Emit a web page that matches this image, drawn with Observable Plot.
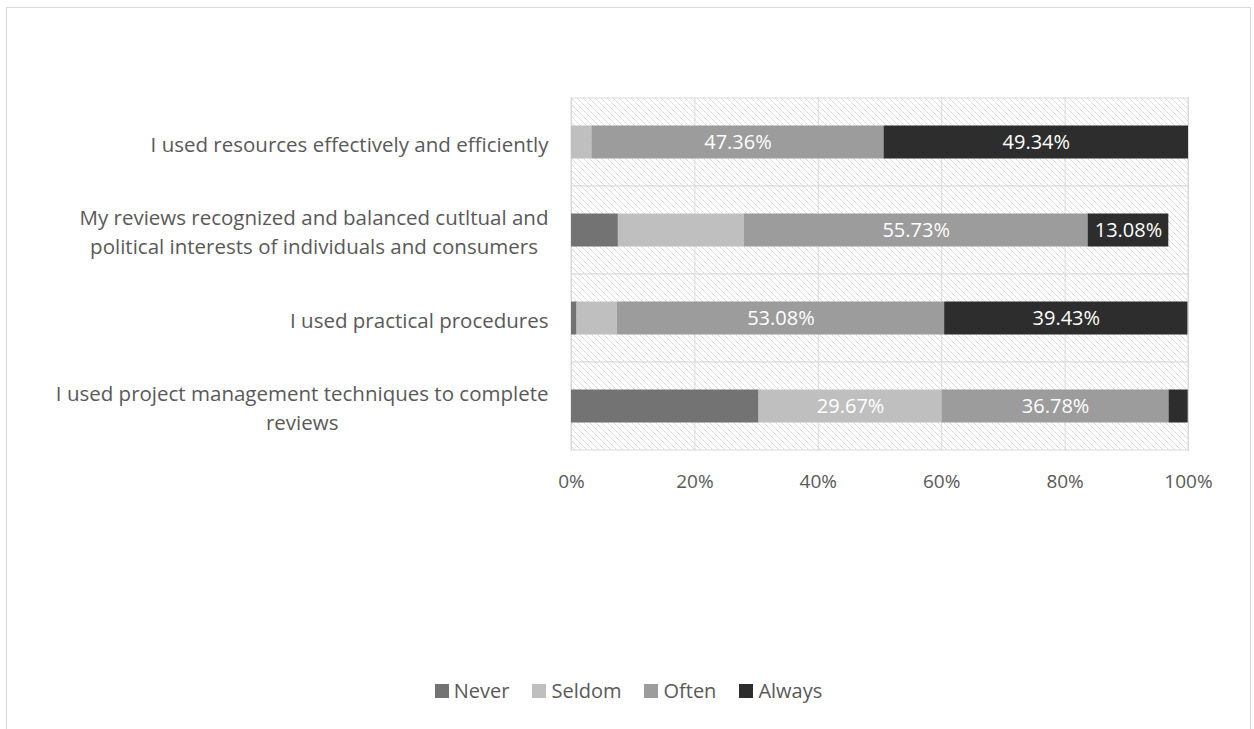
<!DOCTYPE html>
<html>
<head>
<meta charset="utf-8">
<script src="https://cdn.jsdelivr.net/npm/d3@7"></script>
<script src="https://cdn.jsdelivr.net/npm/@observablehq/plot@0.6"></script>
<style>
  html, body { margin: 0; padding: 0; background: #fff; overflow: hidden; width: 1254px; height: 729px; }
  #frame { position: absolute; left: 6px; top: 7px; width: 1243px; height: 760px; border: 1px solid #d9d9d9; box-sizing: content-box; }
  #chart { position: absolute; left: 0; top: 0; }
  #legend { position: absolute; left: 0; top: 669px; width: 1243px; display: flex; justify-content: center; align-items: center;
            font-family: "Open Sans", Lato, sans-serif; font-size: 20px; color: #595959; }
  .item { display: flex; align-items: center; margin: 0 11.5px; }
  .sw { width: 14px; height: 14px; margin-right: 5px; }
</style>
</head>
<body>
<div id="frame">
  <div id="chart"></div>
  <div id="legend"></div>
</div>
<script>
const categories = [
  "I used resources effectively and efficiently",
  "My reviews recognized and balanced cutltual and\npolitical interests of individuals and consumers",
  "I used practical procedures",
  "I used project management techniques to complete\nreviews"
];
const series = ["Never", "Seldom", "Often", "Always"];
const neverValues  = [0, 7.6, 0.9, 30.4];
const seldomValues = [3.3, 20.4, 6.5, 29.67];
const oftenValues  = [47.36, 55.73, 53.08, 36.78];
const alwaysValues = [49.34, 13.08, 39.43, 3.1];
// which segments carry a data label
const neverLabeled  = [false, false, false, false];
const seldomLabeled = [false, false, false, true];
const oftenLabeled  = [true, true, true, true];
const alwaysLabeled = [true, true, true, false];
const xTicks = [0, 20, 40, 60, 80, 100];

const palette = ["#737373", "#bfbfbf", "#9c9c9c", "#2d2d2d"];

const valuesBySeries = [neverValues, seldomValues, oftenValues, alwaysValues];
const labeledBySeries = [neverLabeled, seldomLabeled, oftenLabeled, alwaysLabeled];
const rows = [];
categories.forEach((c, i) => {
  series.forEach((s, j) => {
    rows.push({cat: c, series: s, value: valuesBySeries[j][i], labeled: labeledBySeries[j][i]});
  });
});

const font = '"Open Sans", Lato, sans-serif';
const W = 1243, H = 520;

const plot = Plot.plot({
  width: W,
  height: H,
  marginLeft: 564,
  marginRight: 62,
  marginTop: 89,
  marginBottom: 77,
  style: {fontFamily: font, fontSize: "19px", color: "#595959", background: "transparent"},
  x: {domain: [0, 100], ticks: xTicks, label: null},
  y: {domain: categories, padding: 0, label: null},
  color: {domain: series, range: palette},
  marks: [
    Plot.barX(categories, {x1: 0, x2: 100, y: d => d, fill: "url(#hatch)", stroke: "#d9d9d9", strokeWidth: 1}),
    Plot.ruleX(xTicks, {stroke: "#d9d9d9", strokeWidth: 1}),
    Plot.barX(rows, Plot.stackX({x: "value", y: "cat", fill: "series", insetTop: 27.5, insetBottom: 27.5})),
    Plot.text(rows, Plot.stackX({x: "value", y: "cat", text: d => d.labeled ? d.value.toFixed(2) + "%" : null,
      fill: "white", fontSize: 20})),
    Plot.axisX(xTicks, {tickSize: 0, tickPadding: 23, tickFormat: d => d + "%", fill: "#595959", fontSize: 19, label: null}),
    Plot.axisY({tickSize: 0, tickPadding: 23, fill: "#595959", fontSize: 20.5, lineHeight: 1.4, textOverflow: null, label: null})
  ]
});

// hatch pattern definition
const defs = d3.create("svg:defs");
const pat = defs.append("pattern").attr("id", "hatch").attr("patternUnits", "userSpaceOnUse")
  .attr("width", 6).attr("height", 6);
pat.append("rect").attr("width", 6).attr("height", 6).attr("fill", "white");
pat.append("path").attr("d", "M0,0L6,6M-1,5L1,7M5,-1L7,1").attr("stroke", "#dcdcdc").attr("stroke-width", 1);
plot.insertBefore(defs.node(), plot.firstChild);

document.getElementById("chart").appendChild(plot);

// center-align the lines of wrapped category labels, keeping the block right-aligned
d3.select(plot).selectAll("[aria-label='y-axis tick label'] text").each(function() {
  const tspans = d3.select(this).selectAll("tspan");
  if (tspans.size() < 2) return;
  let maxW = 0;
  tspans.each(function() { maxW = Math.max(maxW, this.getComputedTextLength()); });
  d3.select(this).attr("text-anchor", "middle");
  tspans.attr("x", -maxW / 2);
});

const legend = d3.select("#legend");
series.forEach((s, i) => {
  const it = legend.append("div").attr("class", "item");
  it.append("div").attr("class", "sw").style("background", palette[i]);
  it.append("span").text(s);
});
</script>
</body>
</html>
